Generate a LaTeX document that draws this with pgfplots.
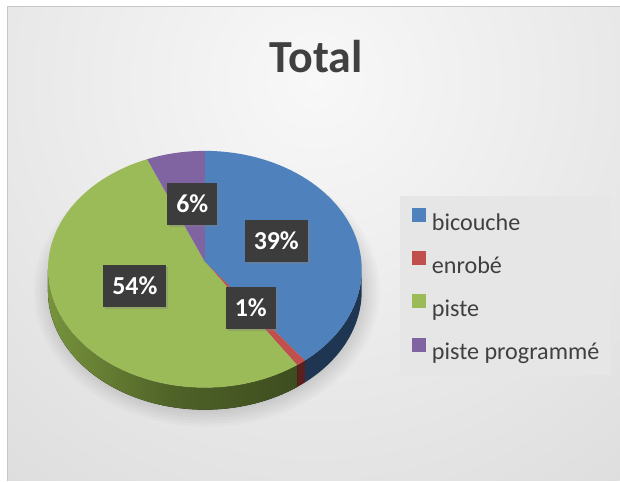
\documentclass[border=0pt]{standalone}
\usepackage{pgfplots}
\pgfplotsset{compat=1.18}
\usepackage{pgfplotstable}
\usepgfplotslibrary{fillbetween}
\usetikzlibrary{shadows}
\usepackage{fontspec}
\setmainfont{Carlito}

\definecolor{cBlue}{HTML}{4F81BD}
\definecolor{cRed}{HTML}{C0504D}
\definecolor{cGreen}{HTML}{9BBB59}
\definecolor{cPurple}{HTML}{8064A2}
\definecolor{sBlue}{HTML}{1F3652}
\definecolor{sRed}{HTML}{5A1F1E}
\definecolor{sGreenL}{HTML}{77933C}
\definecolor{sGreenD}{HTML}{3E4D1F}
\definecolor{titlegray}{HTML}{404040}
\definecolor{legtext}{HTML}{404040}
\definecolor{legbg}{HTML}{E6E6E6}
\definecolor{bgin}{HTML}{F8F8F8}
\definecolor{bgout}{HTML}{C8C8C8}
\definecolor{lblbg}{HTML}{3C3C3C}

% shares of the pie (percent)
\pgfplotstableread{
name value
bicouche 39
enrobe 1
piste 54
pisteprog 6
}\piedata

\pgfplotstablegetelem{0}{value}\of\piedata \edef\vA{\pgfplotsretval}
\pgfplotstablegetelem{1}{value}\of\piedata \edef\vB{\pgfplotsretval}
\pgfplotstablegetelem{2}{value}\of\piedata \edef\vC{\pgfplotsretval}
\pgfplotstablegetelem{3}{value}\of\piedata \edef\vD{\pgfplotsretval}
\pgfmathsetmacro\aA{0}
\pgfmathsetmacro\aB{\aA+3.6*\vA}
\pgfmathsetmacro\aC{\aB+3.6*\vB}
\pgfmathsetmacro\aD{\aC+3.6*\vC}
\pgfmathsetmacro\aE{\aD+3.6*\vD}

% geometry of the 3D pie (pixels, y up)
\def\cx{205}
\def\cy{211.5}
\def\rx{157}
\def\ry{118.5}
\def\dep{22}
\def\apy{219}

\tikzset{fill between/on layer=main}
\tikzset{lbl/.style={fill=lblbg, text=white, font=\bfseries\fontsize{19.4}{21}\selectfont,
  minimum height=31.5pt, inner xsep=6.75pt, inner ysep=0pt,
  drop shadow={shadow xshift=1.5pt, shadow yshift=-1.5pt, opacity=0.35}}}

\begin{document}
\begin{tikzpicture}
\begin{axis}[
  scale only axis, width=465pt, height=360.75pt,
  xmin=0, xmax=620, ymin=0, ymax=481,
  hide axis, clip=false,
  legend cell align=left,
  legend image code/.code={\fill[#1] (0pt,0.5pt) rectangle (10.5pt,11pt);},
  legend style={at={(axis cs:400,285)}, anchor=north west, draw=none, fill=legbg,
    inner xsep=9pt, inner ysep=8.75pt, row sep=13pt, column sep=4.5pt,
    font=\fontsize{18.1}{20}\selectfont, text=legtext,
    nodes={inner sep=0pt, text height=14.25pt, text depth=2.75pt}},
]
% background
\fill[white] (axis cs:0,0) rectangle (axis cs:620,481);
\begin{scope}
\clip (axis cs:8,0) rectangle (axis cs:620,474);
\shade[overlay, inner color=bgin, outer color=bgout] (axis cs:316,400) circle[radius=700pt];
\end{scope}
\draw[black!22, line width=0.75pt] (axis cs:8,0) -- (axis cs:8,474) -- (axis cs:620,474);

% soft shadow under the pie
\pgfplotsinvokeforeach{0,3,6,9,12,15}{
  \fill[black, opacity=0.02] (axis cs:207,190) ellipse[x radius={(158+#1)*0.75pt}, y radius={(121+#1)*0.75pt}];
}

% sides (front half only)
\addplot[draw=none, name path=bt, domain=90:\aB, samples=40, variable=\t, forget plot] ({\cx+\rx*sin(t)}, {\cy+\ry*cos(t)});
\addplot[draw=none, name path=bb, domain=90:\aB, samples=40, variable=\t, forget plot] ({\cx+\rx*sin(t)}, {\cy-\dep+\ry*cos(t)});
\addplot[fill=sBlue, draw=none, forget plot] fill between[of=bt and bb];

\addplot[draw=none, name path=rt, domain=\aB:\aC, samples=10, variable=\t, forget plot] ({\cx+\rx*sin(t)}, {\cy+\ry*cos(t)});
\addplot[draw=none, name path=rb, domain=\aB:\aC, samples=10, variable=\t, forget plot] ({\cx+\rx*sin(t)}, {\cy-\dep+\ry*cos(t)});
\addplot[fill=sRed, draw=none, forget plot] fill between[of=rt and rb];

\addplot[draw=none, name path=gt, domain=\aC:270, samples=60, variable=\t, forget plot] ({\cx+\rx*sin(t)}, {\cy+\ry*cos(t)});
\addplot[draw=none, name path=gb, domain=\aC:270, samples=60, variable=\t, forget plot] ({\cx+\rx*sin(t)}, {\cy-\dep+\ry*cos(t)});
\addplot[draw=none, right color=sGreenD, left color=sGreenL, middle color=sGreenD!70!sGreenL, forget plot] fill between[of=gt and gb];

% top faces
\addplot[draw=none, fill=cBlue, domain=\aA:\aB, samples=60, variable=\t] ({\cx+\rx*sin(t)}, {\cy+\ry*cos(t)}) -- (axis cs:\cx,\apy) -- cycle;
\addlegendentry{bicouche}
\addplot[draw=none, fill=cRed, domain=\aB:\aC, samples=10, variable=\t] ({\cx+\rx*sin(t)}, {\cy+\ry*cos(t)}) -- (axis cs:\cx,\apy) -- cycle;
\addlegendentry{enrobé}
\addplot[draw=none, fill=cGreen, domain=\aC:\aD, samples=80, variable=\t] ({\cx+\rx*sin(t)}, {\cy+\ry*cos(t)}) -- (axis cs:\cx,\apy) -- cycle;
\addlegendentry{piste}
\addplot[draw=none, fill=cPurple, domain=\aD:\aE, samples=15, variable=\t] ({\cx+\rx*sin(t)}, {\cy+\ry*cos(t)}) -- (axis cs:\cx,\apy) -- cycle;
\addlegendentry{piste programmé}

% data labels
\node[lbl] at (axis cs:276.5,240) {39\%};
\node[lbl] at (axis cs:251,173) {1\%};
\node[lbl] at (axis cs:135,195) {54\%};
\node[lbl] at (axis cs:192.5,277) {6\%};

% title
\node[anchor=base, font=\bfseries\fontsize{34.5}{40}\selectfont, text=titlegray] at (axis cs:316.5,408) {Total};
\end{axis}
\end{tikzpicture}
\end{document}
